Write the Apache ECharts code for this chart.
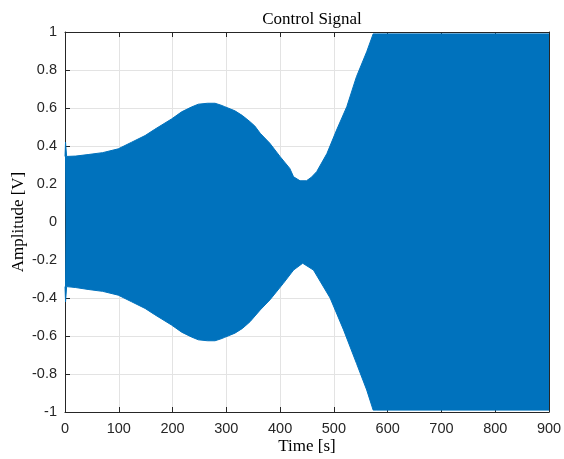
<!DOCTYPE html>
<html><head><meta charset="utf-8">
<script src="https://cdn.jsdelivr.net/npm/echarts@6/dist/echarts.min.js"></script>
<style>html,body{margin:0;padding:0;background:#fff}#c{width:564px;height:459px}</style>
</head><body><div id="c"></div>
<script>
var upperTime = [0,1,2,3,20,43,70,99,124,149,167,198,217,235,248,265,279,290,297,316,330,344,353,363,381,400,418,425,437,449,458,468,487,505,524,542,561,573,580,900];
var upperAmp  = [0.345,0.42,0.42,0.345,0.347,0.355,0.365,0.385,0.42,0.455,0.488,0.542,0.58,0.605,0.62,0.625,0.625,0.615,0.607,0.585,0.56,0.528,0.505,0.467,0.414,0.344,0.282,0.238,0.217,0.217,0.235,0.265,0.36,0.484,0.607,0.765,0.896,0.99,0.99,0.99];
var lowerTime = [0,1,2,3,20,43,70,99,124,149,167,198,217,235,248,265,279,290,297,316,330,344,363,381,406,425,442,462,493,518,542,561,573,580,900];
var lowerAmp  = [-0.34,-0.42,-0.42,-0.34,-0.345,-0.355,-0.365,-0.385,-0.42,-0.455,-0.488,-0.542,-0.58,-0.605,-0.62,-0.625,-0.625,-0.615,-0.607,-0.585,-0.56,-0.525,-0.463,-0.41,-0.323,-0.253,-0.217,-0.253,-0.40,-0.568,-0.744,-0.884,-0.99,-0.99,-0.99];
var xTicks = {min:0, max:900, step:100};
var yTicks = {min:-1, max:1, step:0.2};

var blue = '#0072BD';
var axisCol = '#262626';
var sans = 'Liberation Sans';
var serif = 'Liberation Serif';
function zip(a,b){return a.map(function(v,i){return [v,b[i]];});}
var chart = echarts.init(document.getElementById('c'));
function fmtY(v){ return (Math.round(v*10)/10).toString(); }
chart.setOption({
  animation:false,
  backgroundColor:'#fff',
  textStyle:{fontFamily:sans},
  title:{text:'Control Signal', left:307, top:6, textAlign:'center',
    textStyle:{fontFamily:serif, fontSize:17, fontWeight:'normal', color:'#000'}},
  grid:{left:65, right:15, top:32, bottom:47, containLabel:false, outerBoundsMode:'none'},
  xAxis:[{type:'value', min:xTicks.min, max:xTicks.max, interval:xTicks.step,
    name:'Time [s]', nameLocation:'middle', nameGap:26, nameMoveOverlap:false,
    nameTextStyle:{fontFamily:serif, fontSize:17, color:'#000'},
    axisLine:{show:true, onZero:false, lineStyle:{color:axisCol, width:1}},
    axisTick:{show:true, inside:true, length:5, lineStyle:{color:axisCol}},
    axisLabel:{margin:9, fontFamily:sans, fontSize:14.5, color:axisCol},
    splitLine:{show:true, lineStyle:{color:'#e3e3e3', width:1}}},
   {type:'value', position:'top', min:xTicks.min, max:xTicks.max, interval:xTicks.step,
    axisLine:{show:true, onZero:false, lineStyle:{color:axisCol, width:1}},
    axisTick:{show:true, inside:true, length:5, lineStyle:{color:axisCol}},
    axisLabel:{show:false}, splitLine:{show:false}}],
  yAxis:[{type:'value', min:yTicks.min, max:yTicks.max, interval:yTicks.step,
    name:'Amplitude [V]', nameLocation:'middle', nameGap:38, nameRotate:90, nameMoveOverlap:false,
    nameTextStyle:{fontFamily:serif, fontSize:17, color:'#000'},
    axisLine:{show:true, onZero:false, lineStyle:{color:axisCol, width:1}},
    axisTick:{show:true, inside:true, length:5, lineStyle:{color:axisCol}},
    axisLabel:{margin:8, formatter:fmtY, fontFamily:sans, fontSize:14.5, color:axisCol},
    splitLine:{show:true, lineStyle:{color:'#e3e3e3', width:1}}},
   {type:'value', position:'right', min:yTicks.min, max:yTicks.max, interval:yTicks.step,
    axisLine:{show:true, onZero:false, lineStyle:{color:axisCol, width:1}},
    axisTick:{show:true, inside:true, length:5, lineStyle:{color:axisCol}},
    axisLabel:{show:false}, splitLine:{show:false}}],
  series:[
    {type:'line', data:zip(upperTime, upperAmp), showSymbol:false, symbol:'none',
     lineStyle:{color:blue, width:1}, areaStyle:{color:blue, opacity:1, origin:'auto'}},
    {type:'line', data:zip(lowerTime, lowerAmp), showSymbol:false, symbol:'none',
     lineStyle:{color:blue, width:1}, areaStyle:{color:blue, opacity:1, origin:'auto'}}
  ]
});
</script></body></html>
